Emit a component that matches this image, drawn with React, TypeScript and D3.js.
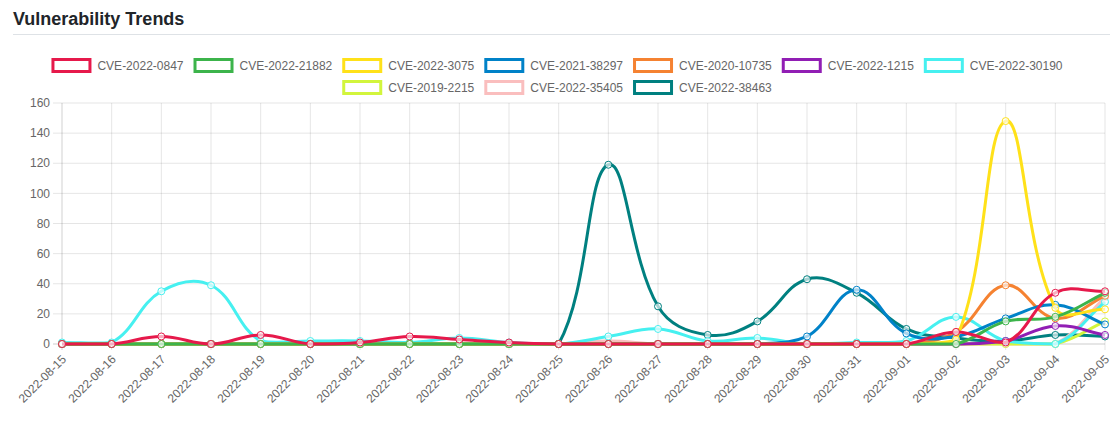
import { useEffect, useRef } from "react";
import * as d3 from "d3";

// x categories
const dates = [
  "2022-08-15", "2022-08-16", "2022-08-17", "2022-08-18", "2022-08-19", "2022-08-20",
  "2022-08-21", "2022-08-22", "2022-08-23", "2022-08-24", "2022-08-25", "2022-08-26",
  "2022-08-27", "2022-08-28", "2022-08-29", "2022-08-30", "2022-08-31", "2022-09-01",
  "2022-09-02", "2022-09-03", "2022-09-04", "2022-09-05",
];

// counts per day
const cve2022_0847 = [0, 0, 5, 0, 6, 0, 1, 5, 3, 1, 0, 0, 0, 0, 0, 0, 0, 0, 8, 1, 34, 35];
const cve2022_21882 = [0, 0, 0, 0, 0, 0, 0, 0, 0, 0, 0, 0, 0, 0, 0, 0, 0, 0, 0, 15, 18, 34];
const cve2022_3075 = [0, 0, 0, 0, 0, 0, 0, 0, 0, 0, 0, 0, 0, 0, 0, 0, 0, 0, 3, 148, 24, 23];
const cve2021_38297 = [0, 0, 0, 0, 0, 0, 0, 0, 0, 0, 0, 0, 0, 0, 0, 5, 36, 7, 5, 17, 26, 13];
const cve2020_10735 = [0, 0, 0, 0, 0, 0, 0, 0, 0, 0, 0, 0, 0, 0, 0, 0, 0, 0, 8, 39, 17, 32];
const cve2022_1215 = [0, 0, 0, 0, 0, 0, 0, 0, 0, 0, 0, 0, 0, 0, 0, 0, 0, 0, 0, 2, 12, 6];
const cve2022_30190 = [1, 1, 35, 39, 2, 2, 2, 1, 4, 1, 0, 5, 10, 2, 4, 0, 1, 2, 18, 2, 0, 28];
const cve2019_2215 = [0, 0, 0, 0, 0, 0, 0, 0, 0, 0, 0, 0, 0, 0, 0, 0, 0, 0, 0, 0, 0, 15];
const cve2022_35405 = [0, 0, 0, 0, 0, 0, 0, 0, 0, 0, 0, 2, 0, 0, 0, 0, 0, 0, 0, 0, 0, 31];
const cve2022_38463 = [0, 0, 0, 0, 0, 0, 0, 0, 0, 0, 0, 119, 25, 6, 15, 43, 34, 10, 4, 2, 6, 5];

const names = [
  "CVE-2022-0847", "CVE-2022-21882", "CVE-2022-3075", "CVE-2021-38297", "CVE-2020-10735",
  "CVE-2022-1215", "CVE-2022-30190", "CVE-2019-2215", "CVE-2022-35405", "CVE-2022-38463",
];
const colors = [
  "#e6194b", "#3cb44b", "#ffe119", "#0082c8", "#f58231",
  "#911eb4", "#46f0f0", "#d2f53c", "#fabebe", "#008080",
];
const values = [
  cve2022_0847, cve2022_21882, cve2022_3075, cve2021_38297, cve2020_10735,
  cve2022_1215, cve2022_30190, cve2019_2215, cve2022_35405, cve2022_38463,
];
const yTicks = [0, 20, 40, 60, 80, 100, 120, 140, 160];

const W = 1118;
const H = 428;
const FONT = "'Liberation Sans', Arial, Helvetica, sans-serif";

// chart.js style spline (tension 0.4, control points capped to the area)
function splinePath(pts: [number, number][], t: number, area: { l: number; r: number; t: number; b: number }) {
  const cps = pts.map((cur, i) => {
    const prev = pts[i - 1] || cur;
    const next = pts[i + 1] || cur;
    const d01 = Math.hypot(cur[0] - prev[0], cur[1] - prev[1]);
    const d12 = Math.hypot(next[0] - cur[0], next[1] - cur[1]);
    let s01 = d01 / (d01 + d12);
    let s12 = d12 / (d01 + d12);
    if (!isFinite(s01)) s01 = 0;
    if (!isFinite(s12)) s12 = 0;
    const fa = t * s01;
    const fb = t * s12;
    const cx = (v: number) => Math.max(area.l, Math.min(area.r, v));
    const cy = (v: number) => Math.max(area.t, Math.min(area.b, v));
    return {
      p: [cx(cur[0] - fa * (next[0] - prev[0])), cy(cur[1] - fa * (next[1] - prev[1]))],
      n: [cx(cur[0] + fb * (next[0] - prev[0])), cy(cur[1] + fb * (next[1] - prev[1]))],
    };
  });
  const path = d3.path();
  path.moveTo(pts[0][0], pts[0][1]);
  for (let i = 1; i < pts.length; i++) {
    path.bezierCurveTo(cps[i - 1].n[0], cps[i - 1].n[1], cps[i].p[0], cps[i].p[1], pts[i][0], pts[i][1]);
  }
  return path.toString();
}

function Chart() {
  const ref = useRef<SVGSVGElement>(null);

  useEffect(() => {
    const svg = d3.select(ref.current);
    svg.selectAll("*").remove();

    const left = 62, right = 1105, top = 103, bottom = 344;
    const x = d3.scalePoint<string>().domain(dates).range([left, right]);
    const y = d3.scaleLinear().domain([0, 160]).range([bottom, top]);

    // title + rule
    svg.append("text")
      .attr("x", 13).attr("y", 25)
      .attr("font-family", FONT).attr("font-size", 18).attr("font-weight", "bold")
      .attr("fill", "#212529")
      .text("Vulnerability Trends");
    svg.append("line")
      .attr("x1", 13).attr("x2", 1110).attr("y1", 34.5).attr("y2", 34.5)
      .attr("stroke", "#dee2e6").attr("stroke-width", 1);

    // legend
    const ctx = document.createElement("canvas").getContext("2d")!;
    ctx.font = `12px ${FONT}`;
    const itemW = names.map((n) => 40 + 6 + ctx.measureText(n).width);
    const rows: number[][] = [[]];
    let acc = 0;
    itemW.forEach((w, i) => {
      if (acc + w + 10 > 1030 && rows[rows.length - 1].length) {
        rows.push([]);
        acc = 0;
      }
      rows[rows.length - 1].push(i);
      acc += w + 10;
    });
    const legend = svg.append("g");
    rows.forEach((row, ri) => {
      const vis = d3.sum(row, (i) => itemW[i]) + 10 * (row.length - 1);
      let cx = 557 - vis / 2;
      const cy = 65.5 + ri * 22;
      row.forEach((i) => {
        legend.append("rect")
          .attr("x", cx + 1.5).attr("y", cy - 6).attr("width", 40 - 3).attr("height", 12)
          .attr("fill", "#fff").attr("stroke", colors[i]).attr("stroke-width", 3);
        legend.append("text")
          .attr("x", cx + 46).attr("y", cy).attr("dy", "0.35em")
          .attr("font-family", FONT).attr("font-size", 12).attr("fill", "#666")
          .text(names[i]);
        cx += itemW[i] + 10;
      });
    });

    // grid
    const grid = svg.append("g");
    yTicks.forEach((t) => {
      grid.append("line")
        .attr("x1", left - 9).attr("x2", right).attr("y1", y(t)).attr("y2", y(t))
        .attr("stroke", t === 0 ? "rgba(0,0,0,0.2)" : "rgba(0,0,0,0.1)");
      grid.append("text")
        .attr("x", 50).attr("y", y(t)).attr("dy", "0.35em").attr("text-anchor", "end")
        .attr("font-family", FONT).attr("font-size", 12).attr("fill", "#666")
        .text(t);
    });
    dates.forEach((d, i) => {
      const px = x(d)!;
      grid.append("line")
        .attr("x1", px).attr("x2", px).attr("y1", top).attr("y2", bottom + 6)
        .attr("stroke", i === 0 ? "rgba(0,0,0,0.18)" : "rgba(0,0,0,0.1)");
      grid.append("text")
        .attr("transform", `translate(${px + 2},${bottom + 13}) rotate(-45)`)
        .attr("text-anchor", "end").attr("dy", "0.35em")
        .attr("font-family", FONT).attr("font-size", 12).attr("fill", "#666")
        .text(d);
    });

    // series, last dataset drawn first
    const area = { l: left, r: right, t: top, b: bottom };
    for (let s = values.length - 1; s >= 0; s--) {
      const pts = values[s].map((v, i) => [x(dates[i])!, y(v)] as [number, number]);
      svg.append("path")
        .attr("d", splinePath(pts, 0.4, area))
        .attr("fill", "none").attr("stroke", colors[s]).attr("stroke-width", 3);
      svg.append("g").selectAll("circle").data(pts).join("circle")
        .attr("cx", (p) => p[0]).attr("cy", (p) => p[1]).attr("r", 3.5)
        .attr("fill", "rgba(255,255,255,0.65)").attr("stroke", colors[s]).attr("stroke-width", 1);
    }
  }, []);

  return (
    <svg ref={ref} width={W} height={H}
      style={{ position: "absolute", left: 0, top: 0, background: "#fff" }} />
  );
}

export default function App() {
  return <Chart />;
}
